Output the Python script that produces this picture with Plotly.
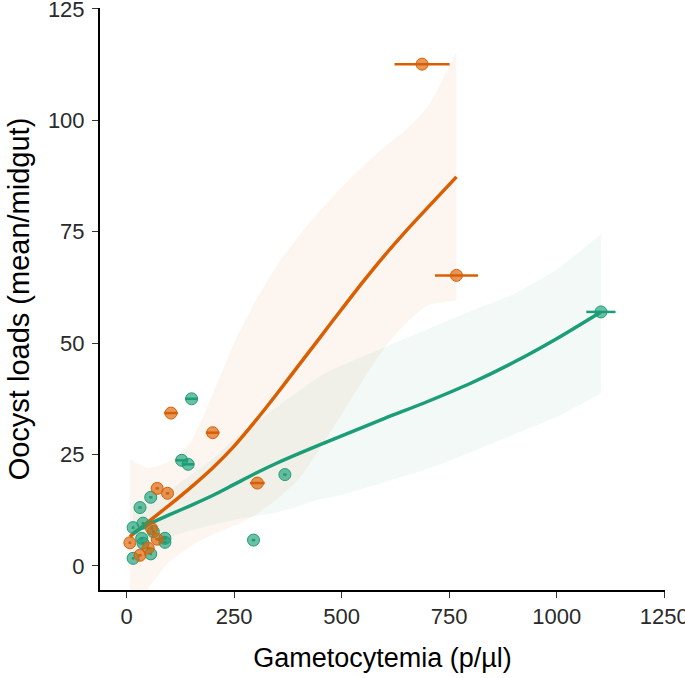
import plotly.graph_objects as go

# ---- data ----
green_x = [151, 128, 143, 368, 56, 31, 15, 38, 62, 35, 38, 89, 89, 295, 15, 56, 1103]
green_y = [37.5, 23.7, 22.8, 20.5, 15.4, 13.1, 8.6, 9.6, 7.7, 6.2, 5.1, 6.2, 5.3, 5.8, 1.7, 2.7, 57.0]
green_xerr = [15, 15, 14, 4, 4, 4, 3, 3, 3, 3, 3, 4, 4, 4, 3, 3, 34]

orange_x = [687, 767, 103, 200, 304, 71, 95, 7.5, 71, 50, 31, 58]
orange_y = [112.6, 65.2, 34.3, 29.9, 18.6, 17.4, 16.3, 5.2, 6.0, 4.0, 2.4, 8.4]
orange_xerr = [64, 50, 16, 16, 17, 4, 4, 3, 4, 4, 4, 3]

# smooth fits
orange_fit_x = [7.5, 50, 100, 150, 200, 250, 300, 350, 400, 450, 500, 550, 600, 650, 700, 767]
orange_fit_y = [6.6, 9.9, 13.7, 17.7, 22.0, 26.9, 32.6, 38.7, 45.0, 51.3, 57.6, 63.8, 69.7, 75.2, 80.4, 87.3]
orange_fit_lo = [-12, -5, 1, 4.5, 7, 9, 11.5, 15.0, 19.5, 26.4, 34.0, 41.8, 49.0, 54.5, 58.5, 59.5]
orange_fit_hi = [24, 22, 23.5, 28, 38.5, 50.0, 59.5, 67.5, 74.0, 79.8, 85.0, 89.7, 94.0, 98.0, 103, 115.5]

green_fit_x = [15, 50, 100, 150, 200, 250, 300, 350, 400, 450, 500, 600, 700, 800, 900, 1000, 1103]
green_fit_y = [7.3, 9.3, 11.5, 13.6, 15.8, 18.3, 20.8, 23.1, 25.2, 27.2, 29.2, 33.1, 36.9, 41.0, 45.7, 51.0, 57.0]
green_fit_lo = [3.0, 4.8, 6.5, 8.0, 9.2, 10.3, 11.2, 12.0, 13.4, 15.0, 16.0, 18.8, 21.8, 25.5, 29.5, 33.5, 38.7]
green_fit_hi = [12.5, 14.5, 17.0, 20.5, 24.0, 28.5, 32.0, 35.8, 39.2, 42.6, 45.0, 49.1, 53.1, 57.2, 61.0, 66.5, 74.5]

x_ticks = [0, 250, 500, 750, 1000, 1250]
y_ticks = [0, 25, 50, 75, 100, 125]

GREEN = "#1B9E77"
ORANGE = "#D95F02"
FONT = "Liberation Sans, Arial, sans-serif"

fig = go.Figure()

def ribbon(x, lo, hi, rgba):
    fig.add_trace(go.Scatter(x=x, y=lo, mode="lines",
                             line=dict(width=0, color="rgba(0,0,0,0)", shape="spline", smoothing=0.6),
                             hoverinfo="skip", showlegend=False))
    fig.add_trace(go.Scatter(x=x, y=hi, mode="lines",
                             line=dict(width=0, color="rgba(0,0,0,0)", shape="spline", smoothing=0.6),
                             fill="tonexty", fillcolor=rgba, hoverinfo="skip", showlegend=False))

ribbon(orange_fit_x, orange_fit_lo, orange_fit_hi, "rgba(217,95,2,0.06)")
ribbon(green_fit_x, green_fit_lo, green_fit_hi, "rgba(27,158,119,0.06)")

fig.add_trace(go.Scatter(x=orange_fit_x, y=orange_fit_y, mode="lines",
                         line=dict(color=ORANGE, width=3.5, shape="spline", smoothing=0.8),
                         showlegend=False))
fig.add_trace(go.Scatter(x=green_fit_x, y=green_fit_y, mode="lines",
                         line=dict(color=GREEN, width=3.5, shape="spline", smoothing=0.8),
                         showlegend=False))

def points(x, y, err, color, rgba):
    fig.add_trace(go.Scatter(
        x=x, y=y, mode="markers",
        marker=dict(size=12, color=rgba, line=dict(color=color, width=1)),
        error_x=dict(type="data", array=err, visible=True, color=color, thickness=2.5, width=0),
        showlegend=False))

points(green_x, green_y, green_xerr, GREEN, "rgba(27,158,119,0.65)")
points(orange_x, orange_y, orange_xerr, ORANGE, "rgba(217,95,2,0.65)")

axis_common = dict(
    showgrid=False, zeroline=False, showline=True, linecolor="black", linewidth=2,
    ticks="outside", ticklen=6, tickwidth=1.2, tickcolor="#333333", automargin=False,
    ticklabeloverflow="allow",
    tickfont=dict(family=FONT, size=22, color="#2a2a2a"),
)

fig.update_layout(
    width=685, height=678,
    margin=dict(l=100, r=20, t=8, b=88),
    plot_bgcolor="white", paper_bgcolor="white",
    xaxis=dict(range=[-62, 1252], tickvals=x_ticks,
               title=dict(text="Gametocytemia (p/µl)", standoff=20,
                          font=dict(family=FONT, size=27, color="black")),
               **axis_common),
    yaxis=dict(range=[-5.4, 125.2], tickvals=y_ticks,
               title=dict(text="Oocyst loads (mean/midgut)", standoff=10,
                          font=dict(family=FONT, size=29, color="black")),
               ticklabelstandoff=3,
               **axis_common),
)

fig.write_html("out.html", config={"displayModeBar": False},
               post_script="document.body.style.margin='0';document.body.style.overflow='hidden';")
